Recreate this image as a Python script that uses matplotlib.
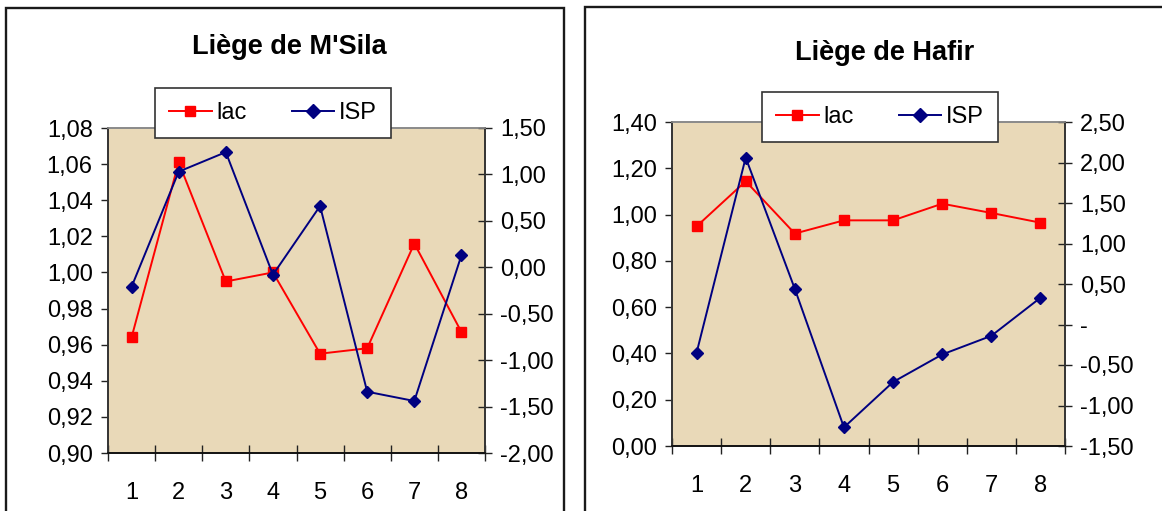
import numpy as np
import matplotlib
matplotlib.use("Agg")
import matplotlib.pyplot as plt
from matplotlib.patches import Rectangle
from matplotlib.lines import Line2D

plt.rcParams['font.family'] = ['Liberation Sans', 'DejaVu Sans']

categories = [1, 2, 3, 4, 5, 6, 7, 8]

# Liège de M'Sila
msila_lac = [0.964, 1.061, 0.995, 1.000, 0.955, 0.958, 1.016, 0.967]
msila_isp = [-0.21, 1.03, 1.24, -0.08, 0.66, -1.34, -1.44, 0.13]

# Liège de Hafir
hafir_lac = [0.949, 1.144, 0.918, 0.975, 0.975, 1.047, 1.007, 0.965]
hafir_isp = [-0.35, 2.06, 0.44, -1.27, -0.71, -0.37, -0.14, 0.33]

charts = [
    {"title": "Liège de M'Sila", "lac": msila_lac, "isp": msila_isp,
     "left_lim": (0.90, 1.08), "left_step": 0.02,
     "right_lim": (-2.0, 1.5), "right_step": 0.5,
     "box": (108, 128, 485, 453), "title_xy": (289, 47),
     "legend_xy": (273, 113), "frame": (6, 8, 564, 530)},
    {"title": "Liège de Hafir", "lac": hafir_lac, "isp": hafir_isp,
     "left_lim": (0.0, 1.40), "left_step": 0.20,
     "right_lim": (-1.5, 2.5), "right_step": 0.5,
     "box": (672, 122, 1065, 446), "title_xy": (885, 53),
     "legend_xy": (880, 117), "frame": (585, 7, 1180, 530)},
]

W, H = 1162, 511
fig = plt.figure(figsize=(W / 100, H / 100), dpi=100)
fig.patch.set_facecolor("white")


def comma(v):
    return f"{v:.2f}".replace(".", ",")


def dash_zero(v):
    if abs(v) < 1e-9:
        return "-"
    return comma(v)


for i, c in enumerate(charts):
    fx0, fy0, fx1, fy1 = c["frame"]
    fig.patches.append(Rectangle((fx0 / W, 1 - fy1 / H), (fx1 - fx0) / W, (fy1 - fy0) / H,
                                 transform=fig.transFigure, fill=False,
                                 edgecolor="#1a1a1a", linewidth=1.7, zorder=0))

    x0, y0, x1, y1 = c["box"]
    ax = fig.add_axes([x0 / W, 1 - y1 / H, (x1 - x0) / W, (y1 - y0) / H])
    ax.set_facecolor("#E9D9B8")
    ax2 = ax.twinx()

    ax.plot(categories, c["lac"], color="#FF0000", marker="s", markersize=7,
            linewidth=1.4, zorder=3)
    ax2.plot(categories, c["isp"], color="#000080", marker="D", markersize=6.5,
             linewidth=1.4, zorder=3)

    ax.set_xlim(0.5, 8.5)
    ax.set_xticks(np.arange(0.5, 9, 1))
    ax.set_xticklabels([])
    ax.set_xticks(categories, minor=True)
    ax.set_xticklabels([str(k) for k in categories], minor=True)
    ax.tick_params(axis="x", which="major", direction="inout", length=12, width=1, color="#222222")
    ax.tick_params(axis="x", which="minor", length=0, pad=21, labelsize=17)

    lo, hi = c["left_lim"]
    ax.set_ylim(lo, hi)
    lt = np.arange(lo, hi + c["left_step"] / 2, c["left_step"])
    ax.set_yticks(lt)
    ax.set_yticklabels([comma(v) for v in lt])
    ax.tick_params(axis="y", direction="out", length=5, width=1, pad=6, labelsize=17, color="#222222")

    rlo, rhi = c["right_lim"]
    ax2.set_ylim(rlo, rhi)
    rt = np.arange(rlo, rhi + c["right_step"] / 2, c["right_step"])
    ax2.set_yticks(rt)
    if i == 1:
        ax2.set_yticklabels([dash_zero(v) for v in rt])
    else:
        ax2.set_yticklabels([comma(v) for v in rt])
    ax2.tick_params(axis="y", direction="inout", length=10, width=1, pad=6, labelsize=17, color="#222222")

    for a in (ax, ax2):
        a.spines["top"].set_color("#8a8a8a")
        a.spines["left"].set_color("#333333")
        a.spines["right"].set_color("#333333")
        a.spines["bottom"].set_color("#111111")
        for s in a.spines.values():
            s.set_linewidth(1.2)

    fig.text(c["title_xy"][0] / W, 1 - c["title_xy"][1] / H, c["title"],
             ha="center", va="center", fontsize=19.5, fontweight="bold")

    handles = [
        Line2D([], [], color="#FF0000", marker="s", markersize=7.5, linewidth=1.4),
        Line2D([], [], color="#000080", marker="D", markersize=7, linewidth=1.4),
    ]
    leg = fig.legend(handles, ["lac", "ISP"], ncol=2, loc="center",
                     bbox_to_anchor=(c["legend_xy"][0] / W, 1 - c["legend_xy"][1] / H),
                     bbox_transform=fig.transFigure, fontsize=17, frameon=True,
                     fancybox=False, framealpha=1, edgecolor="#333333",
                     handlelength=1.8, handletextpad=0.2, columnspacing=1.9,
                     borderpad=0.6, borderaxespad=0)
    leg.get_frame().set_linewidth(1.2)

fig.savefig("out.png", dpi=100)
